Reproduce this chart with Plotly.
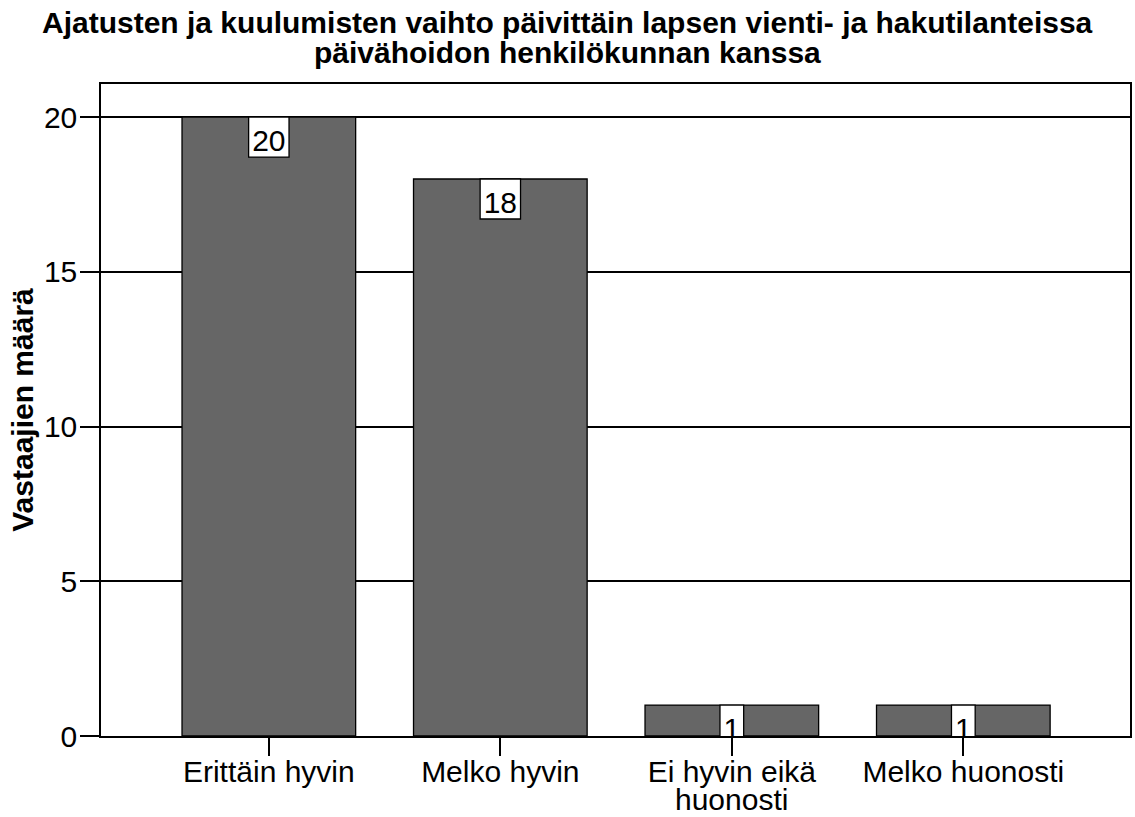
import textwrap
import plotly.graph_objects as go

categories = ["Erittäin hyvin", "Melko hyvin", "Ei hyvin eikä huonosti", "Melko huonosti"]
counts = [20, 18, 1, 1]
y_ticks = [0, 5, 10, 15, 20]

title_lines = [
    "Ajatusten ja kuulumisten vaihto päivittäin lapsen vienti- ja hakutilanteissa",
    "päivähoidon henkilökunnan kanssa",
]
y_title = "Vastaajien määrä"

FONT = "Liberation Sans, Arial, sans-serif"
FS = 30

x_idx = list(range(len(categories)))
wrapped = [textwrap.wrap(c, 14) for c in categories]

fig = go.Figure()
fig.add_trace(go.Bar(
    x=x_idx,
    y=counts,
    width=0.75,
    marker=dict(color="#666666", line=dict(color="black", width=1.3)),
    hoverinfo="skip",
))

# value labels: white boxes hanging from bar tops (clipped to plot area)
px_per_cat = 1029 / 4.445
px_per_unit = 652 / 21.07
box_h = 40 / px_per_unit
shapes = []
for i, v in enumerate(counts):
    half_w = (16.7 * len(str(v)) + 7) / 2 / px_per_cat
    shapes.append(dict(
        type="rect", xref="x", yref="y",
        x0=i - half_w, x1=i + half_w, y0=v - box_h, y1=v,
        fillcolor="white", line=dict(color="black", width=1.3),
        layer="above",
        label=dict(text=str(v), textposition="middle center",
                   font=dict(family=FONT, size=FS, color="black")),
    ))

annotations = []
# title, one annotation per line for tight line spacing
for k, line in enumerate(title_lines):
    annotations.append(dict(
        text=f"<b>{line}</b>", xref="paper", yref="paper",
        x=(567.5 - 101) / 1029, y=1, xanchor="center", yanchor="middle",
        yshift=62 - 30 * k, showarrow=False,
        font=dict(family=FONT, size=FS, color="black"),
    ))
# continuation lines of wrapped category labels
for i, lines in enumerate(wrapped):
    for k, line in enumerate(lines[1:], start=1):
        annotations.append(dict(
            text=line, xref="x", yref="paper", x=i, y=0,
            xanchor="center", yanchor="middle", yshift=-34 - 29 * k,
            borderpad=0, showarrow=False,
            font=dict(family=FONT, size=FS, color="black"),
        ))

fig.update_layout(
    width=1135, height=817,
    margin=dict(l=101, r=5, t=84, b=81, autoexpand=False),
    paper_bgcolor="white", plot_bgcolor="white",
    showlegend=False,
    shapes=shapes,
    annotations=annotations,
    font=dict(family=FONT, color="black"),
)

fig.update_xaxes(
    tickmode="array", tickvals=x_idx, ticktext=[w[0] for w in wrapped],
    range=[-0.725, 3.72], automargin=False,
    showline=True, mirror=True, linecolor="black", linewidth=1.5,
    ticks="outside", ticklen=18, tickwidth=1.5, tickcolor="black",
    ticklabelstandoff=-10,
    tickfont=dict(family=FONT, size=FS, color="black"),
    showgrid=False, zeroline=False,
)
fig.update_yaxes(
    range=[0, 21.07], automargin=False,
    tickmode="array", tickvals=y_ticks,
    showline=True, mirror=True, linecolor="black", linewidth=1.5,
    ticks="outside", ticklen=19, tickwidth=1.5, tickcolor="black",
    ticklabelstandoff=-3,
    tickfont=dict(family=FONT, size=FS, color="black"),
    showgrid=True, gridcolor="black", gridwidth=1.5,
    zeroline=False,
    title=dict(text=f"<b>{y_title}</b>", standoff=1,
               font=dict(family=FONT, size=FS, color="black")),
)

fig.write_html(
    "out.html",
    config={"displayModeBar": False},
    post_script="document.body.style.margin='0';document.body.style.overflow='hidden';",
)
